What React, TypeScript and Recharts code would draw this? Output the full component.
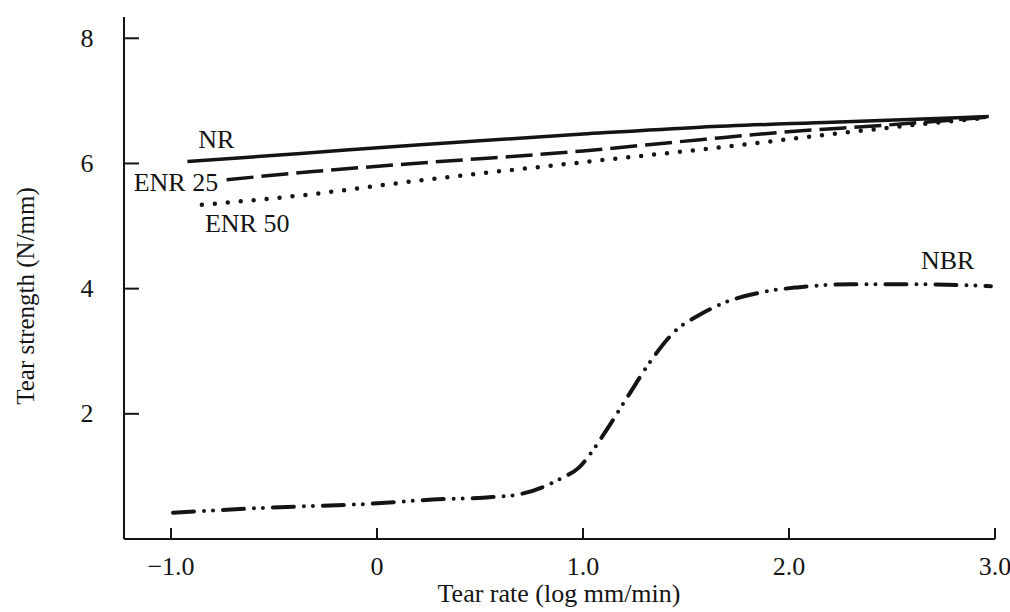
import React from 'react';
import { LineChart, Line, XAxis, YAxis, ReferenceDot } from 'recharts';

const FONT = "'Liberation Serif', 'Times New Roman', serif";
const INK = '#141414';

const xTicks = [-1, 0, 1, 2, 3];
const xTickLabels = ['\u22121.0', '0', '1.0', '2.0', '3.0'];
const yTicks = [2, 4, 6, 8];
const yTickLabels = ['2', '4', '6', '8'];

const nrX = [-0.92, -0.37, 0.21, 1.0, 1.57, 2.21, 2.97];
const nrY = [6.03, 6.16, 6.3, 6.47, 6.58, 6.66, 6.75];

const enr25X = [-0.73, -0.31, 0.18, 1.0, 1.57, 1.97, 2.46, 2.97];
const enr25Y = [5.74, 5.87, 6.0, 6.2, 6.38, 6.5, 6.61, 6.74];

const enr50X = [-0.85, -0.34, 0.16, 1.0, 1.62, 2.16, 2.74, 2.97];
const enr50Y = [5.34, 5.5, 5.71, 6.02, 6.24, 6.45, 6.66, 6.73];

const nbrX = [-0.99, -0.53, -0.05, 0.27, 0.56, 0.7, 0.82, 0.9, 0.98, 1.04, 1.11, 1.22, 1.33, 1.45, 1.56, 1.69, 1.88, 2.04, 2.3, 2.6, 2.98];
const nbrY = [0.42, 0.5, 0.56, 0.63, 0.67, 0.72, 0.85, 0.98, 1.14, 1.38, 1.72, 2.29, 2.85, 3.33, 3.57, 3.78, 3.95, 4.02, 4.07, 4.07, 4.04];

const seriesLabels = [
  { text: 'NR', x: -0.78, y: 6.4 },
  { text: 'ENR 25', x: -0.976, y: 5.71 },
  { text: 'ENR 50', x: -0.63, y: 5.06 },
  { text: 'NBR', x: 2.77, y: 4.46 },
];

const toPts = (xs: number[], ys: number[]) => xs.map((x, i) => ({ x, y: ys[i] }));

const nrData = toPts(nrX, nrY);
const enr25Data = toPts(enr25X, enr25Y);
const enr50Data = toPts(enr50X, enr50Y);
const nbrData = toPts(nbrX, nbrY);

const AXIS_X = 124;
const AXIS_Y = 539;

const YTick = (props: any) => {
  const { y, payload } = props;
  const idx = yTicks.indexOf(payload.value);
  return (
    <g>
      <line x1={AXIS_X} x2={AXIS_X + 15} y1={y} y2={y} stroke={INK} strokeWidth={2} />
      <text x={87} y={y} textAnchor="middle" dominantBaseline="central" fontFamily={FONT} fontSize={26} fill={INK}>
        {idx >= 0 ? yTickLabels[idx] : payload.value}
      </text>
    </g>
  );
};

const XTick = (props: any) => {
  const { x, payload } = props;
  const idx = xTicks.indexOf(payload.value);
  return (
    <g>
      <line x1={x} x2={x} y1={AXIS_Y} y2={AXIS_Y - 11} stroke={INK} strokeWidth={2} />
      <text x={x} y={566} textAnchor="middle" dominantBaseline="central" fontFamily={FONT} fontSize={26} fill={INK}>
        {idx >= 0 ? xTickLabels[idx] : payload.value}
      </text>
    </g>
  );
};

const YTitle = () => (
  <text x={25} y={296} transform="rotate(-90 25 296)" textAnchor="middle" dominantBaseline="central" fontFamily={FONT} fontSize={25} fill={INK}>
    Tear strength (N/mm)
  </text>
);

const XTitle = () => (
  <text x={559} y={593} textAnchor="middle" dominantBaseline="central" fontFamily={FONT} fontSize={26} fill={INK}>
    Tear rate (log mm/min)
  </text>
);

export default function App() {
  return (
    <div style={{ position: 'absolute', left: 0, top: 0, width: 1010, height: 612, background: '#fff' }}>
      <LineChart width={1010} height={612} margin={{ top: 17, right: 15, bottom: 0, left: 0 }}>
        <XAxis
          dataKey="x"
          type="number"
          domain={[-1.228, 3.0]}
          ticks={xTicks}
          height={73}
          axisLine={{ stroke: INK, strokeWidth: 2 }}
          tickLine={false}
          tick={<XTick />}
          label={XTitle}
          allowDataOverflow
        />
        <YAxis
          type="number"
          domain={[0, 8.34]}
          ticks={yTicks}
          width={124}
          axisLine={{ stroke: INK, strokeWidth: 2 }}
          tickLine={false}
          tick={<YTick />}
          label={YTitle}
          allowDataOverflow
        />
        <Line data={nrData} dataKey="y" type="monotone" stroke={INK} strokeWidth={3.5} dot={false} activeDot={false} isAnimationActive={false} />
        <Line data={enr25Data} dataKey="y" type="monotone" stroke={INK} strokeWidth={3.5} strokeDasharray="27 8" dot={false} activeDot={false} isAnimationActive={false} />
        <Line data={enr50Data} dataKey="y" type="monotone" stroke={INK} strokeWidth={4.5} strokeLinecap="round" strokeDasharray="0 13" dot={false} activeDot={false} isAnimationActive={false} />
        <Line data={nbrData} dataKey="y" type="monotone" stroke={INK} strokeWidth={4} strokeLinecap="round" strokeDasharray="21 10 0 9 0 10" dot={false} activeDot={false} isAnimationActive={false} />
        {seriesLabels.map((l) => (
          <ReferenceDot
            key={l.text}
            x={l.x}
            y={l.y}
            r={0}
            fill="none"
            stroke="none"
            label={{ value: l.text, position: 'center', fontFamily: FONT, fontSize: 26, fill: INK }}
          />
        ))}
      </LineChart>
    </div>
  );
}
